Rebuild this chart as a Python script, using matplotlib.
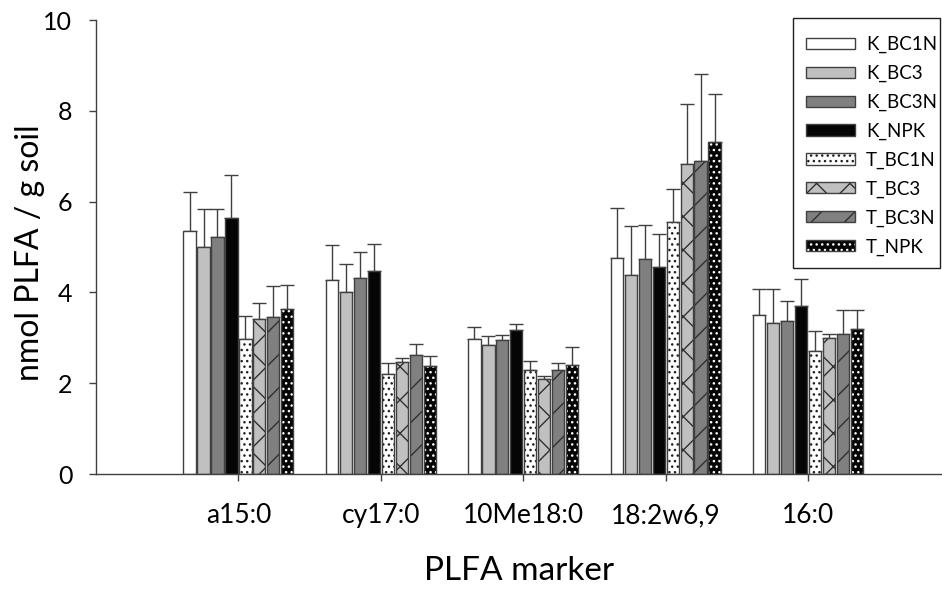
import matplotlib
matplotlib.use("Agg")
import matplotlib.pyplot as plt
from matplotlib.patches import Patch, Rectangle
import numpy as np

plt.rcParams['font.family'] = ['Lato', 'DejaVu Sans']

markers = ['a15:0', 'cy17:0', '10Me18:0', '18:2w6,9', '16:0']
treatments = ['K_BC1N', 'K_BC3', 'K_BC3N', 'K_NPK', 'T_BC1N', 'T_BC3', 'T_BC3N', 'T_NPK']

# mean values per treatment (one value per marker)
k_bc1n = [5.36, 4.27, 2.97, 4.76, 3.51]
k_bc3 = [5.01, 4.01, 2.84, 4.38, 3.33]
k_bc3n = [5.21, 4.32, 2.95, 4.74, 3.38]
k_npk = [5.63, 4.47, 3.17, 4.57, 3.69]
t_bc1n = [2.98, 2.20, 2.29, 5.55, 2.72]
t_bc3 = [3.41, 2.47, 2.09, 6.83, 2.99]
t_bc3n = [3.46, 2.62, 2.28, 6.89, 3.08]
t_npk = [3.63, 2.38, 2.40, 7.31, 3.19]

# standard deviations (upper error bars only)
k_bc1n_err = [0.86, 0.77, 0.27, 1.11, 0.56]
k_bc3_err = [0.83, 0.62, 0.19, 1.08, 0.74]
k_bc3n_err = [0.63, 0.57, 0.11, 0.74, 0.42]
k_npk_err = [0.96, 0.60, 0.13, 0.72, 0.61]
t_bc1n_err = [0.51, 0.25, 0.21, 0.72, 0.42]
t_bc3_err = [0.36, 0.08, 0.07, 1.31, 0.09]
t_bc3n_err = [0.67, 0.25, 0.17, 1.91, 0.53]
t_npk_err = [0.54, 0.22, 0.40, 1.05, 0.42]

means = [k_bc1n, k_bc3, k_bc3n, k_npk, t_bc1n, t_bc3, t_bc3n, t_npk]
errs = [k_bc1n_err, k_bc3_err, k_bc3n_err, k_npk_err,
        t_bc1n_err, t_bc3_err, t_bc3n_err, t_npk_err]

# fill colour, hatch pattern, hatch colour
styles = [
    ('white', '', 'white'),
    ('#c0c0c0', '', '#c0c0c0'),
    ('#808080', '', '#808080'),
    ('#050505', '', '#050505'),
    ('white', '...', '#202020'),
    ('#c0c0c0', 'x', '#303030'),
    ('#808080', '/', '#303030'),
    ('#050505', '...', 'white'),
]
edge = '#404040'

fig = plt.figure(figsize=(9.42, 5.89), dpi=100)
ax = fig.add_axes([96 / 942, 1 - 474 / 589, 1 - 96 / 942, (474 - 20) / 589])

x = np.arange(1, len(markers) + 1)
step = 0.098
width = 0.086
handles = []
for i, (vals, err) in enumerate(zip(means, errs)):
    fc, hatch, hc = styles[i]
    pos = x + (i - 3.5) * step
    ax.bar(pos, vals, width, color=fc, edgecolor=hc, hatch=hatch, linewidth=0, zorder=2)
    ax.bar(pos, vals, width, fill=False, edgecolor=edge, linewidth=1.0, zorder=3)
    ax.errorbar(pos, vals, yerr=[np.zeros(len(vals)), err], fmt='none',
                ecolor=edge, elinewidth=1.0, capsize=4.7, capthick=1.0, zorder=1)
    handles.append((Patch(facecolor=fc, edgecolor=hc, hatch=hatch, linewidth=0),
                    Patch(fill=False, edgecolor=edge, linewidth=1.0)))

ax.set_xlim(0, 5.94)
ax.set_ylim(0, 10)
ax.set_xticks(x)
ax.set_xticklabels(markers)
ax.set_yticks(np.arange(0, 11, 2))
ax.tick_params(axis='both', direction='out', length=5, width=1, color='#404040')
ax.tick_params(axis='x', labelsize=19, pad=16)
ax.tick_params(axis='y', labelsize=18, pad=12)
for s in ['top', 'right']:
    ax.spines[s].set_visible(False)
for s in ['left', 'bottom']:
    ax.spines[s].set_color('#404040')
    ax.spines[s].set_linewidth(1)

ax.set_xlabel('PLFA marker', fontsize=24, labelpad=20)
fig.text(30 / 942, 1 - 253 / 589, 'nmol PLFA / g soil', fontsize=23,
         rotation=90, ha='center', va='center')

# legend box
ax.add_patch(Rectangle((793 / 942, 1 - 268 / 589), 147 / 942, 250 / 589,
                       transform=fig.transFigure, facecolor='white',
                       edgecolor='#202020', linewidth=1.0, clip_on=False, zorder=4))
leg = ax.legend(handles, treatments, loc='upper left',
                bbox_to_anchor=(806 / 942, 1 - 36 / 589),
                bbox_transform=fig.transFigure, borderaxespad=0, borderpad=0,
                fontsize=13.5, frameon=False,
                handlelength=2.6, handleheight=0.55, handletextpad=0.6,
                labelspacing=0.62)
leg.set_zorder(5)

fig.savefig('out.png', dpi=100)
